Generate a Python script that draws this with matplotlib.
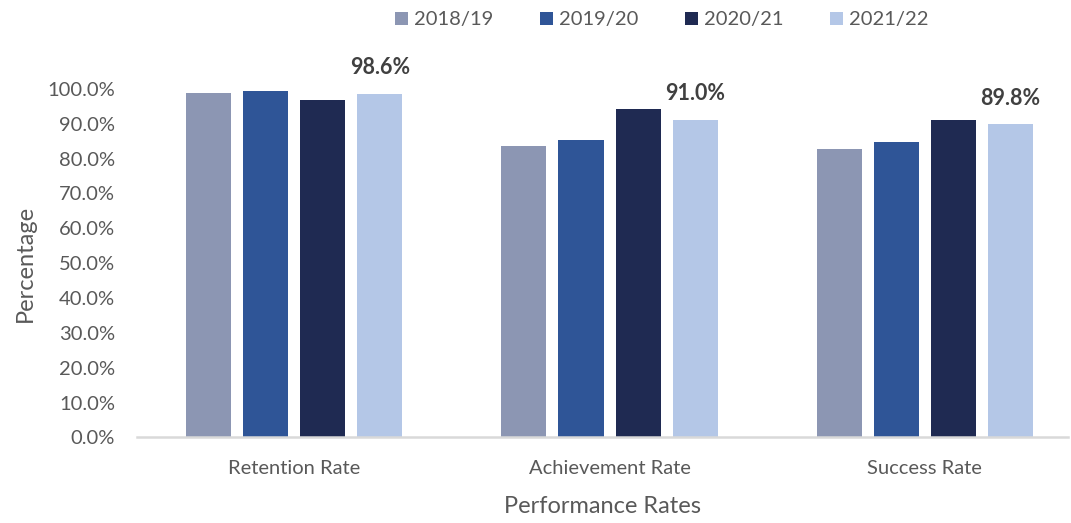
import matplotlib
matplotlib.use("Agg")
import matplotlib.pyplot as plt
import numpy as np

categories = ["Retention Rate", "Achievement Rate", "Success Rate"]
years = ["2018/19", "2019/20", "2020/21", "2021/22"]
v_2018_19 = [98.8, 83.7, 82.9]
v_2019_20 = [99.3, 85.3, 84.8]
v_2020_21 = [96.7, 94.2, 91.1]
v_2021_22 = [98.6, 91.0, 89.8]
series = [v_2018_19, v_2019_20, v_2020_21, v_2021_22]
colors = ["#8C96B3", "#2F5597", "#1F2A52", "#B4C7E7"]

plt.rcParams['font.family'] = ['Lato', 'DejaVu Sans']
txt = "#595959"

fig = plt.figure(figsize=(10.71, 5.23), dpi=100)
ax = fig.add_axes([0.128, 0.1635, 0.869, 0.6665])

x = np.arange(len(categories))
w = 0.143
pitch = 0.181
bars_all = []
for i, (vals, c, lab) in enumerate(zip(series, colors, years)):
    b = ax.bar(x + (i - 1.5) * pitch, vals, width=w, color=c, label=lab, zorder=2)
    bars_all.append(b)

for rect, v in zip(bars_all[3], v_2021_22):
    ax.annotate(f"{v:.1f}%", (rect.get_x() + rect.get_width() / 2, v),
                xytext=(0, 19), textcoords="offset points", ha="center", va="center",
                fontsize=15.5, fontweight="bold", color="#404040", annotation_clip=False)

ax.set_xlim(-0.498, 2.453)
ax.set_ylim(0, 100)
ax.set_yticks(np.arange(0, 101, 10))
ax.set_yticklabels([f"{t:.1f}%" for t in np.arange(0, 101, 10)])
ax.set_xticks(x)
ax.set_xticklabels(categories)
ax.tick_params(axis='both', length=0, labelsize=14.5, colors=txt)
ax.tick_params(axis='x', pad=16)
ax.tick_params(axis='y', pad=16)
for s in ["top", "right", "left"]:
    ax.spines[s].set_visible(False)
ax.spines["bottom"].set_color("#D9D9D9")
ax.spines["bottom"].set_linewidth(1.8)

ax.set_ylabel("Percentage", fontsize=17, color=txt, labelpad=8)
ax.set_xlabel("Performance Rates", fontsize=17, color=txt, labelpad=14)

fig.legend(loc="center", bbox_to_anchor=(0.618, 0.962), ncol=4, frameon=False,
           fontsize=14.5, labelcolor=txt, handlelength=0.65, handleheight=0.65,
           handletextpad=0.3, columnspacing=2.3)

fig.savefig("out.png", dpi=100)
